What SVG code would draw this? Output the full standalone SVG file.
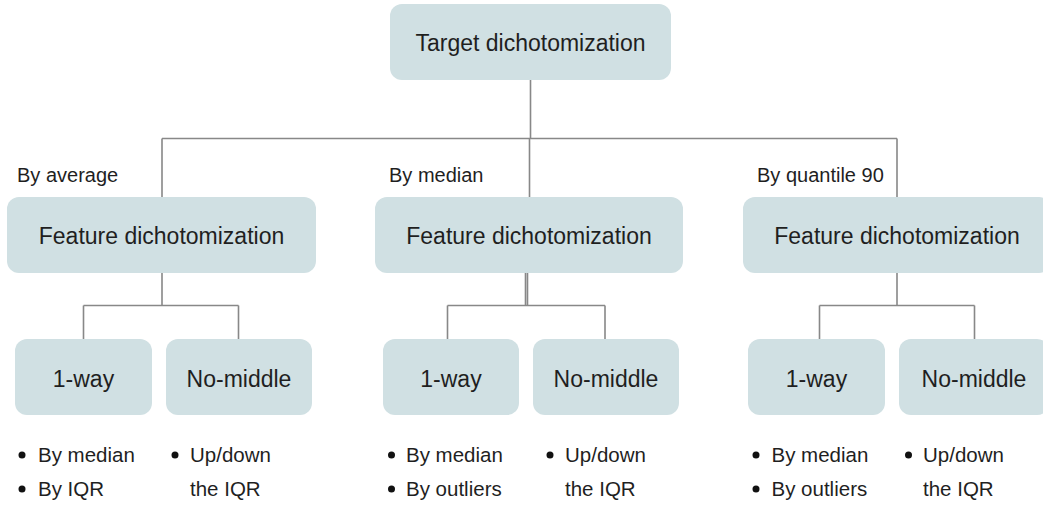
<svg xmlns="http://www.w3.org/2000/svg" width="1043" height="507" viewBox="0 0 1043 507">
<style>
.box{fill:#d0e0e3;}
.bt{font-family:"Liberation Sans",Arial,sans-serif;font-size:23px;fill:#1f1f1f;text-anchor:middle;}
.lb{font-family:"Liberation Sans",Arial,sans-serif;font-size:20px;fill:#1f1f1f;}
.bl{font-family:"Liberation Sans",Arial,sans-serif;font-size:20.5px;fill:#1f1f1f;}
.dot{fill:#111;}
.ln{stroke:#888;stroke-width:1.6;fill:none;}
</style>
<rect width="1043" height="507" fill="#fff"/>
<g id="connectors">
<path class="ln" d="M530.5 80 V138.5 M162 138.5 H897 M162 138.5 V197 M529.5 138.5 V197 M897 138.5 V197"/>
<path class="ln" d="M162 273 V305.5 M83.5 305.5 H238.5 M83.5 305.5 V339 M238.5 305.5 V339"/>
<path class="ln" d="M525.5 273 V305.5 M527.5 273 V305.5 M447.5 305.5 H605 M447.5 305.5 V339 M605 305.5 V339"/>
<path class="ln" d="M897 273 V305.5 M819.5 305.5 H974.5 M819.5 305.5 V339 M974.5 305.5 V339"/>
</g>
<g id="target">
<rect class="box" x="390" y="4" width="281" height="76" rx="12"/>
<text class="bt" x="530.5" y="51">Target dichotomization</text>
</g>
<g id="label-average"><text class="lb" x="17" y="182">By average</text></g>
<g id="label-median"><text class="lb" x="389" y="182">By median</text></g>
<g id="label-quantile"><text class="lb" x="757" y="182">By quantile 90</text></g>
<g id="feature-1">
<rect class="box" x="7" y="197" width="309" height="76" rx="12"/>
<text class="bt" x="161.5" y="244">Feature dichotomization</text>
</g>
<g id="feature-2">
<rect class="box" x="375" y="197" width="308" height="76" rx="12"/>
<text class="bt" x="529" y="244">Feature dichotomization</text>
</g>
<g id="feature-3">
<rect class="box" x="743" y="197" width="308" height="76" rx="12"/>
<text class="bt" x="897" y="244">Feature dichotomization</text>
</g>
<g id="oneway-1">
<rect class="box" x="15" y="339" width="137" height="76" rx="12"/>
<text class="bt" x="83.5" y="387">1-way</text>
</g>
<g id="nomiddle-1">
<rect class="box" x="166" y="339" width="146" height="76" rx="12"/>
<text class="bt" x="239" y="387">No-middle</text>
</g>
<g id="oneway-2">
<rect class="box" x="383" y="339" width="136" height="76" rx="12"/>
<text class="bt" x="451" y="387">1-way</text>
</g>
<g id="nomiddle-2">
<rect class="box" x="533" y="339" width="146" height="76" rx="12"/>
<text class="bt" x="606" y="387">No-middle</text>
</g>
<g id="oneway-3">
<rect class="box" x="748" y="339" width="137" height="76" rx="12"/>
<text class="bt" x="816.5" y="387">1-way</text>
</g>
<g id="nomiddle-3">
<rect class="box" x="899" y="339" width="150" height="76" rx="12"/>
<text class="bt" x="974" y="387">No-middle</text>
</g>
<g id="notes-1">
<circle class="dot" cx="22" cy="455" r="3.5"/><text class="bl" x="38" y="462">By median</text>
<circle class="dot" cx="22" cy="489" r="3.5"/><text class="bl" x="38" y="496">By IQR</text>
<circle class="dot" cx="175" cy="455" r="3.5"/><text class="bl" x="190" y="462">Up/down</text>
<text class="bl" x="190" y="496">the IQR</text>
</g>
<g id="notes-2">
<circle class="dot" cx="391.5" cy="455" r="3.5"/><text class="bl" x="406" y="462">By median</text>
<circle class="dot" cx="391.5" cy="489" r="3.5"/><text class="bl" x="406" y="496">By outliers</text>
<circle class="dot" cx="550" cy="455" r="3.5"/><text class="bl" x="565" y="462">Up/down</text>
<text class="bl" x="565" y="496">the IQR</text>
</g>
<g id="notes-3">
<circle class="dot" cx="756" cy="455" r="3.5"/><text class="bl" x="771.5" y="462">By median</text>
<circle class="dot" cx="756" cy="489" r="3.5"/><text class="bl" x="771.5" y="496">By outliers</text>
<circle class="dot" cx="908.5" cy="455" r="3.5"/><text class="bl" x="923" y="462">Up/down</text>
<text class="bl" x="923" y="496">the IQR</text>
</g>
</svg>
